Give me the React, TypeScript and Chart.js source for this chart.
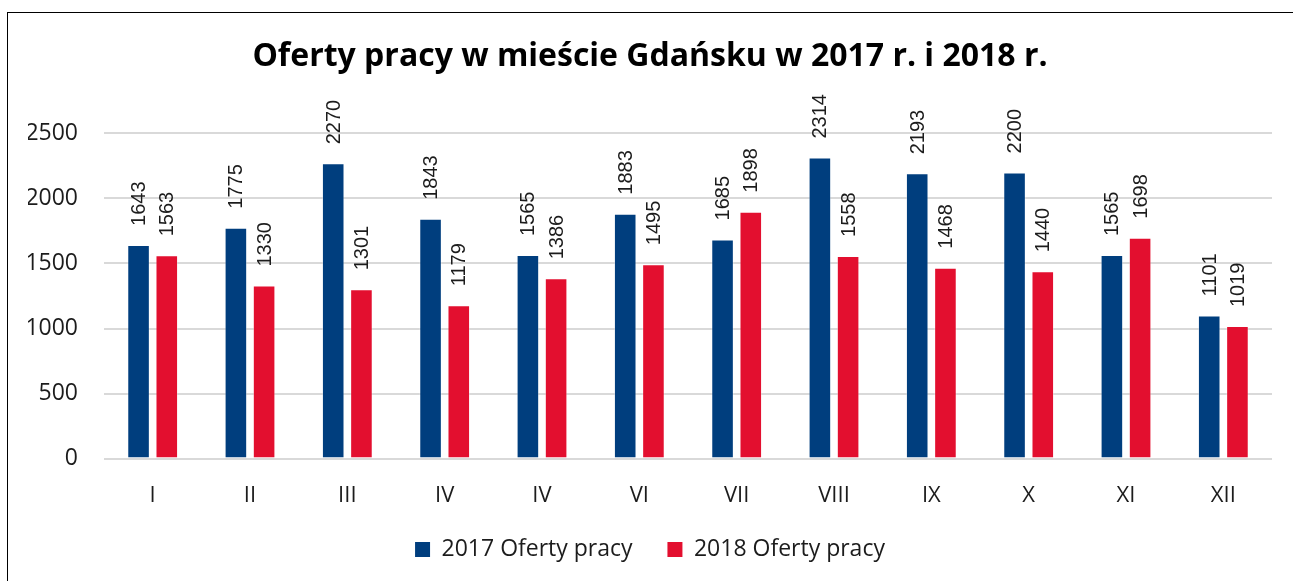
import React, { useEffect, useRef } from "react";
import { Chart, registerables } from "chart.js";

Chart.register(...registerables);

const categories = ["I", "II", "III", "IV", "IV", "VI", "VII", "VIII", "IX", "X", "XI", "XII"];
const series2017 = [1643, 1775, 2270, 1843, 1565, 1883, 1685, 2314, 2193, 2200, 1565, 1101];
const series2018 = [1563, 1330, 1301, 1179, 1386, 1495, 1898, 1558, 1468, 1440, 1698, 1019];
const yTicks = [0, 500, 1000, 1500, 2000, 2500];
const seriesNames = ["2017 Oferty pracy", "2018 Oferty pracy"];
const titleText = "Oferty pracy w mieście Gdańsku w 2017 r. i 2018 r.";

const BLUE = "#003E7E";
const RED = "#E30F2F";
const TEXT = "#1c1c1c";

const labelPlugin = {
  id: "rotLabels",
  afterDatasetsDraw(chart: any) {
    const ctx = chart.ctx;
    ctx.save();
    ctx.font = "20px 'Liberation Sans', Arial, sans-serif";
    ctx.fillStyle = TEXT;
    ctx.textAlign = "left";
    ctx.textBaseline = "middle";
    chart.data.datasets.forEach((ds: any, di: number) => {
      const meta = chart.getDatasetMeta(di);
      meta.data.forEach((bar: any, i: number) => {
        ctx.save();
        ctx.translate(bar.x + 1, bar.y - 19);
        ctx.rotate(-Math.PI / 2);
        ctx.fillText(String(ds.data[i]), 0, 0);
        ctx.restore();
      });
    });
    ctx.restore();
  },
};

export default function App() {
  const ref = useRef<HTMLCanvasElement | null>(null);
  useEffect(() => {
    if (!ref.current) return;
    const chart = new Chart(ref.current, {
      type: "bar",
      data: {
        labels: categories,
        datasets: [
          {
            label: seriesNames[0],
            data: series2017,
            backgroundColor: BLUE,
            borderColor: "rgba(255,255,255,0.35)",
            borderWidth: 1,
            categoryPercentage: 0.58,
            barPercentage: 0.8,
          },
          {
            label: seriesNames[1],
            data: series2018,
            backgroundColor: RED,
            borderColor: "rgba(255,255,255,0.35)",
            borderWidth: 1,
            categoryPercentage: 0.58,
            barPercentage: 0.8,
          },
        ],
      },
      options: {
        animation: false,
        responsive: false,
        maintainAspectRatio: false,
        layout: { padding: { left: 20, right: 28, top: 0, bottom: 4 } },
        plugins: {
          title: {
            display: true,
            text: titleText,
            color: "#000",
            font: { family: "'Open Sans', sans-serif", size: 32, weight: "bold" },
            padding: { top: 25, bottom: 57 },
          },
          legend: {
            position: "bottom",
            labels: {
              color: TEXT,
              font: { family: "'Open Sans', sans-serif", size: 23 },
              boxWidth: 15,
              boxHeight: 15,
              padding: 5,
              generateLabels: (chart: any) => {
                const items = Chart.defaults.plugins.legend.labels.generateLabels(chart);
                return items.map((it: any, i: number) => ({
                  ...it,
                  text: i === 0 ? it.text + "     " : it.text,
                  lineWidth: 0,
                }));
              },
            },
          },
          tooltip: { enabled: false },
        },
        scales: {
          x: {
            grid: { display: false, drawTicks: false },
            border: { display: false },
            ticks: {
              color: TEXT,
              font: { family: "'Open Sans', sans-serif", size: 22 },
              padding: 24,
            },
          },
          y: {
            min: 0,
            max: 2500,
            afterBuildTicks: (s: any) => {
              s.ticks = yTicks.map((v) => ({ value: v }));
            },
            afterFit: (s: any) => {
              s.width = 76;
            },
            grid: { color: "#d9d9d9", lineWidth: 2, drawTicks: false },
            border: { display: false },
            ticks: {
              color: TEXT,
              font: { family: "'Open Sans', sans-serif", size: 23 },
              padding: 26,
              callback: (v: any) => String(v),
            },
          },
        },
      },
      plugins: [labelPlugin],
    });
    return () => chart.destroy();
  }, []);

  return (
    <div
      style={{
        position: "absolute",
        left: 7,
        top: 12,
        width: 1294,
        height: 640,
        border: "1px solid #000",
        background: "#fff",
        boxSizing: "border-box",
      }}
    >
      <canvas ref={ref} width={1292} height={562} style={{ display: "block" }} />
    </div>
  );
}
